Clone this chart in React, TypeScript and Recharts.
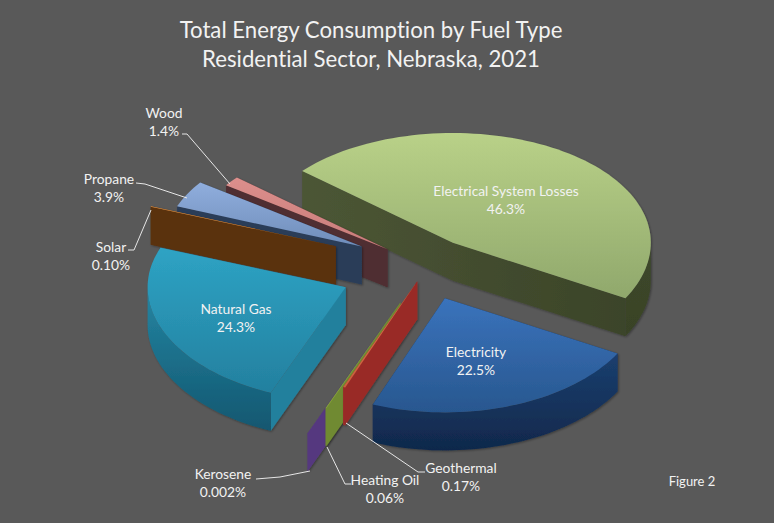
import React from "react";
import { PieChart, Pie } from "recharts";

// paint order = counter-clockwise from the right edge of the green slice
const categories = [
  "Electrical System Losses",
  "Wood",
  "Propane",
  "Solar",
  "Natural Gas",
  "Kerosene",
  "Heating Oil",
  "Geothermal",
  "Electricity",
];
const shares = [46.3, 1.4, 3.9, 0.1, 24.3, 0.002, 0.06, 0.17, 22.5];
const shareLabels = ["46.3%", "1.4%", "3.9%", "0.10%", "24.3%", "0.002%", "0.06%", "0.17%", "22.5%"];

const data = categories.map((name, i) => ({ name, value: shares[i] }));

const W = 774;
const H = 523;
const BG = "#595959";
const FONT = "Lato, 'Open Sans', sans-serif";
const CX = 424.5;
const CY = 265.4;
const RX = 198;
const RY = 112;
const FORESHORTEN = 0.02; // front of the pie looks a bit longer than the back
const DEPTH = 38;

const explode = [0.25, 0.237, 0.36, 0.48, 0.44, 0.59, 0.35, 0.14, 0.305];
const nudgeX = [0, 0, 0, 0, 1, 2, 2, 3, 0];
const nudgeY = [0, 0, 0, 0, 2, 0, 0, 1, 0];
const topFill = [
  ["#b9d188", "#90a86c"],
  ["#dc8f8c", "#c87c7a"],
  ["#90aedd", "#6f8dba"],
  ["#e59a50", "#c9803c"],
  ["#2ea3c4", "#23809f"],
  ["#6a4a97", "#6a4a97"],
  ["#8aa63c", "#8aa63c"],
  ["#d9764a", "#c9603c"],
  ["#3a73bc", "#28578f"],
];
const faceFill = [
  ["#4c5635", "#3b4429"],
  ["#4f2e30", "#4f2e30"],
  ["#2b3d58", "#2b3d58"],
  ["#5e3209", "#5a3009"],
  ["#24809d", "#24809d"],
  ["#55387f", "#55387f"],
  ["#6f8a30", "#6f8a30"],
  ["#992b27", "#992b27"],
  ["#17345d", "#17345d"],
];
const rimFill = [
  ["#3d472a", "#394327"],
  ["#4f2e30", "#4f2e30"],
  ["#2b3d58", "#2b3d58"],
  ["#5e3209", "#5e3209"],
  ["#2586a3", "#125770"],
  ["#55387f", "#55387f"],
  ["#6f8a30", "#6f8a30"],
  ["#992b27", "#992b27"],
  ["#1b3f6f", "#10284b"],
];

type LabelSpot = { x: number; y: number; leader?: string };
const labelSpots: LabelSpot[] = [
  { x: 506, y: 196 },
  { x: 164, y: 118, leader: "182,134 187,134 230,184" },
  { x: 109, y: 184, leader: "136,183 145,184 187,198" },
  { x: 111, y: 252, leader: "128,250 134,250 151,210" },
  { x: 236, y: 314 },
  { x: 223, y: 479, leader: "256,479 280,477 310,471" },
  { x: 385, y: 485, leader: "327,447 345,484 351,484" },
  { x: 461, y: 473, leader: "346,423 418,472 425,472" },
  { x: 476, y: 357 },
];

const RAD = Math.PI / 180;

// pie plane to screen, relative to the slice tip
const flat = (deg: number, r: number) => {
  const s = Math.sin(deg * RAD);
  return { x: r * RX * Math.cos(deg * RAD), y: -r * RY * s * (1 - FORESHORTEN * s) };
};

function Slice3D(props: any) {
  const { startAngle, endAngle, name } = props;
  const i = categories.indexOf(name);
  const off = flat((startAngle + endAngle) / 2, explode[i]);
  const tx = CX + off.x + nudgeX[i];
  const ty = CY + off.y + nudgeY[i];
  const pt = (deg: number) => {
    const p = flat(deg, 1);
    return { x: tx + p.x, y: ty + p.y };
  };
  const arc = (from: number, to: number, dy = 0) => {
    const n = Math.max(2, Math.ceil(Math.abs(to - from) / 2));
    const out: string[] = [];
    for (let k = 0; k <= n; k++) {
      const p = pt(from + ((to - from) * k) / n);
      out.push(`${p.x},${p.y + dy}`);
    }
    return out.join("L");
  };
  const a = pt(startAngle);
  const b = pt(endAngle);
  const top = `M${tx},${ty}L${arc(startAngle, endAngle)}Z`;
  const face = (p: { x: number; y: number }) =>
    `M${tx},${ty}L${p.x},${p.y}L${p.x},${p.y + DEPTH}L${tx},${ty + DEPTH}Z`;

  // outer wall only where the rim faces the viewer
  const rims: string[] = [];
  for (let k = -1; k <= 1; k++) {
    const lo = Math.max(startAngle, 180 + 360 * k);
    const hi = Math.min(endAngle, 360 + 360 * k);
    if (hi > lo) rims.push(`M${arc(lo, hi)}L${arc(hi, lo, DEPTH)}Z`);
  }

  return (
    <g filter="url(#sliceShadow)">
      <linearGradient id={`face${i}`} gradientUnits="userSpaceOnUse" x1={Math.min(a.x, b.x)} y1={0} x2={Math.max(a.x, b.x)} y2={0}>
        <stop offset="0%" stopColor={faceFill[i][0]} />
        <stop offset="100%" stopColor={faceFill[i][1]} />
      </linearGradient>
      <path d={face(a)} fill={`url(#face${i})`} />
      <path d={face(b)} fill={`url(#face${i})`} />
      {rims.map((d) => (
        <path key={d} d={d} fill={`url(#rim${i})`} />
      ))}
      <path d={top} fill={`url(#top${i})`} />
    </g>
  );
}

function SliceLabel(props: any) {
  const i = categories.indexOf(props.name);
  const spot = labelSpots[i];
  return (
    <g>
      {spot.leader && <polyline points={spot.leader} fill="none" stroke="#e6e6e6" strokeWidth={1} />}
      <text x={spot.x} y={spot.y} textAnchor="middle" fontFamily={FONT} fontSize={13.8} fill="#f2f2f2">
        {categories[i]}
      </text>
      <text x={spot.x} y={spot.y + 18} textAnchor="middle" fontFamily={FONT} fontSize={13.8} fill="#f2f2f2">
        {shareLabels[i]}
      </text>
    </g>
  );
}

const titleStyle = { fontVariantLigatures: "none" } as React.CSSProperties;

export default function App() {
  return (
    <div style={{ position: "absolute", left: 0, top: 0, width: W, height: H, background: BG }}>
      <PieChart width={W} height={H} margin={{ top: 0, right: 0, bottom: 0, left: 0 }}>
        <defs>
          <filter id="sliceShadow" x="-10%" y="-10%" width="120%" height="120%">
            <feDropShadow dx={1} dy={1} stdDeviation={1.2} floodColor="#000" floodOpacity={0.35} />
          </filter>
          {topFill.map((c, i) => (
            <linearGradient key={i} id={`top${i}`} x1="0" y1="0" x2="0" y2="1">
              <stop offset="0%" stopColor={c[0]} />
              <stop offset="100%" stopColor={c[1]} />
            </linearGradient>
          ))}
          {rimFill.map((c, i) => (
            <linearGradient key={i} id={`rim${i}`} x1="0" y1="0" x2="0" y2="1">
              <stop offset="0%" stopColor={c[0]} />
              <stop offset="100%" stopColor={c[1]} />
            </linearGradient>
          ))}
        </defs>
        <Pie
          data={data}
          dataKey="value"
          nameKey="name"
          cx={CX}
          cy={CY}
          innerRadius={0}
          outerRadius={RX}
          startAngle={-29.3}
          endAngle={330.7}
          stroke="none"
          isAnimationActive={false}
          shape={Slice3D}
          label={SliceLabel}
          labelLine={false}
        />
        <text x={371} y={38} textAnchor="middle" fontFamily={FONT} fontSize={22.2} fill="#f2f2f2" style={titleStyle}>
          Total Energy Consumption by Fuel Type
        </text>
        <text x={371} y={67} textAnchor="middle" fontFamily={FONT} fontSize={22.2} fill="#f2f2f2" style={titleStyle}>
          Residential Sector, Nebraska, 2021
        </text>
        <text x={692} y={486} textAnchor="middle" fontFamily={FONT} fontSize={13} fill="#f2f2f2">
          Figure 2
        </text>
      </PieChart>
    </div>
  );
}
